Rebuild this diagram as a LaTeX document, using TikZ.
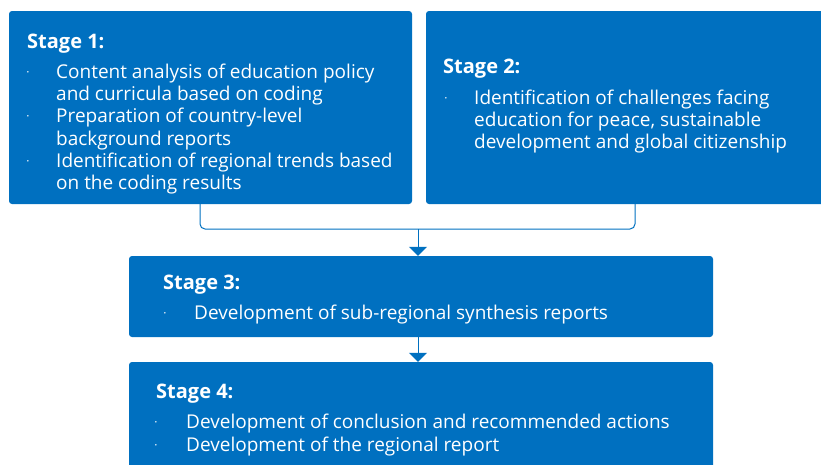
\documentclass[tikz,border=0pt]{standalone}
\usepackage{fontspec}
\setmainfont{Open Sans}
\usetikzlibrary{arrows.meta}
\definecolor{unblue}{HTML}{0070C0}
\tikzset{
  box/.style={fill=unblue, draw=none, rounded corners=3pt, inner sep=0pt},
  conn/.style={draw=unblue, line width=1pt},
  tip/.style={-{Triangle[width=18pt,length=9pt]}},
  head/.style={anchor=west, text=white, inner sep=0pt, font=\fontsize{20}{24}\selectfont\bfseries},
  item/.style={anchor=west, text=white, inner sep=0pt, font=\fontsize{19}{22}\selectfont},
  dot/.style={anchor=center, text=white, inner sep=0pt, font=\fontsize{12}{14}\selectfont},
}
\begin{document}
\begin{tikzpicture}[x=1pt,y=-1pt]
\useasboundingbox (0,0) rectangle (821,464);
\clip (0,0) rectangle (821,464);
% boxes
\node[box, minimum width=403pt, minimum height=193pt] (s1) at (210.5,107.5) {};
\node[box, minimum width=410pt, minimum height=193pt] (s2) at (631,107.5) {};
\node[box, minimum width=584pt, minimum height=81pt] (s3) at (421,296.5) {};
\node[box, minimum width=584pt, minimum height=110pt] (s4) at (421,417) {};
% connectors
\coordinate (j) at (418,229);
\draw[conn, rounded corners=5pt] (s1.south -| 200,0) |- (j) -| (s2.south -| 635,0);
\draw[conn, tip] (j) -- (s3.north -| j);
\draw[conn, tip] (s3.south -| j) -- (s4.north -| j);
% stage 1
\node[head] (h1) at (27,43.5) {Stage 1:};
\node[dot] (b1a) at (28,74) {·};
\node[item] (t1a) at (56,73.5) {Content analysis of education policy};
\node[item] (t1b) at (56,95.5) {and curricula based on coding};
\node[dot] (b1b) at (28,118) {·};
\node[item] (t1c) at (56,117.5) {Preparation of country-level};
\node[item] (t1d) at (56,140.5) {background reports};
\node[dot] (b1c) at (28,163) {·};
\node[item] (t1e) at (56,162.5) {Identification of regional trends based};
\node[item] (t1f) at (56,184.5) {on the coding results};
% stage 2
\node[head] (h2) at (443,68.5) {Stage 2:};
\node[dot] (b2a) at (446,100) {·};
\node[item] (t2a) at (474,99.5) {Identification of challenges facing};
\node[item] (t2b) at (474,121.5) {education for peace, sustainable};
\node[item] (t2c) at (474,143.5) {development and global citizenship};
% stage 3
\node[head] (h3) at (163,284.5) {Stage 3:};
\node[dot] (b3a) at (165,315) {·};
\node[item] (t3a) at (194,314.5) {Development of sub-regional synthesis reports};
% stage 4
\node[head] (h4) at (156,393.5) {Stage 4:};
\node[dot] (b4a) at (156,424) {·};
\node[item] (t4a) at (186,423.5) {Development of conclusion and recommended actions};
\node[dot] (b4b) at (156,447) {·};
\node[item] (t4b) at (186,446.5) {Development of the regional report};
\end{tikzpicture}
\end{document}
